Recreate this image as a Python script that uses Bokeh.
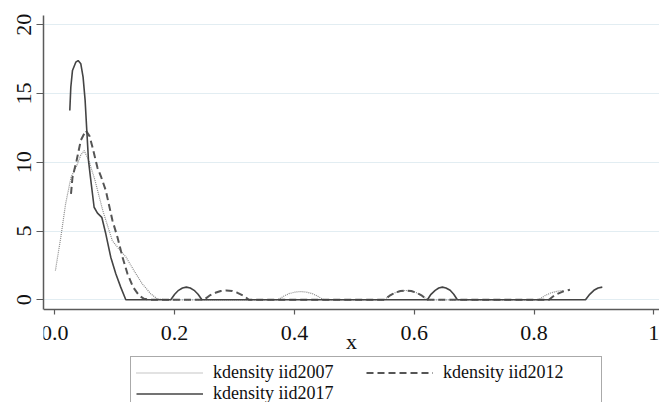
from bokeh.plotting import figure
from bokeh.models import Legend, LegendItem, Range1d, FixedTicker
from bokeh.embed import file_html
from bokeh.resources import INLINE

# ---- data ----
x2007 = [0.001, 0.010, 0.018, 0.027, 0.038, 0.043, 0.049, 0.057, 0.067, 0.080, 0.096, 0.107,
         0.119, 0.132, 0.146, 0.160, 0.171, 0.185,
         0.372, 0.382, 0.391, 0.401, 0.4105, 0.420, 0.430, 0.439, 0.449,
         0.550, 0.559, 0.568, 0.577, 0.586, 0.595, 0.604, 0.613, 0.622,
         0.808, 0.818, 0.828, 0.838, 0.848]
y2007 = [2.13, 4.55, 6.98, 8.9, 9.9, 10.5, 10.85, 10.1, 8.7, 6.5, 4.3, 3.7,
         3.1, 2.13, 1.16, 0.44, 0.07, 0.0,
         0.0, 0.26, 0.45, 0.56, 0.6, 0.56, 0.45, 0.26, 0.0,
         0.0, 0.3, 0.51, 0.64, 0.68, 0.64, 0.51, 0.3, 0.0,
         0.0, 0.3, 0.5, 0.62, 0.68]

x2012 = [0.027, 0.0295, 0.0362, 0.0434, 0.0517, 0.058, 0.0629, 0.0712, 0.0768, 0.0851, 0.0962,
         0.1046, 0.113, 0.1213, 0.1307, 0.1407, 0.149, 0.160,
         0.249, 0.258, 0.268, 0.277, 0.2865, 0.296, 0.305, 0.315, 0.324,
         0.550, 0.559, 0.568, 0.577, 0.586, 0.595, 0.604, 0.613, 0.622,
         0.825, 0.835, 0.848, 0.860]
y2012 = [7.7, 8.9, 10.1, 11.6, 12.31, 11.9, 11.1, 9.6, 9.0, 7.95, 5.77,
         4.55, 3.1, 1.89, 0.92, 0.31, 0.07, 0.0,
         0.0, 0.3, 0.51, 0.64, 0.68, 0.64, 0.51, 0.3, 0.0,
         0.0, 0.3, 0.51, 0.64, 0.68, 0.64, 0.51, 0.3, 0.0,
         0.0, 0.35, 0.6, 0.73]

x2017 = [0.025, 0.0267, 0.0295, 0.035, 0.0389, 0.0434, 0.0472, 0.0506, 0.0534, 0.0562, 0.0595,
         0.0656, 0.0712, 0.0784, 0.0851, 0.0934, 0.1018, 0.110, 0.1185,
         0.1936, 0.2001, 0.2066, 0.2131, 0.2196, 0.2261, 0.2326, 0.2391, 0.2456,
         0.622, 0.628, 0.635, 0.641, 0.647, 0.653, 0.660, 0.666, 0.672,
         0.886, 0.893, 0.900, 0.907, 0.914]
y2017 = [13.77, 15.46, 16.68, 17.28, 17.4, 17.16, 16.19, 14.5, 12.3, 10.13, 8.9,
         6.73, 6.3, 6.0, 4.8, 3.1, 1.89, 0.92, 0.0,
         0.0, 0.4, 0.69, 0.86, 0.92, 0.86, 0.69, 0.4, 0.0,
         0.0, 0.4, 0.69, 0.86, 0.92, 0.86, 0.69, 0.4, 0.0,
         0.0, 0.4, 0.69, 0.86, 0.92]

xticks = [0, 0.2, 0.4, 0.6, 0.8, 1]
xtick_labels = ["0.0", "0.2", "0.4", "0.6", "0.8", "1"]
yticks = [0, 5, 10, 15, 20]
ytick_labels = ["0", "5", "10", "15", "20"]
series_names = ["kdensity iid2007", "kdensity iid2012", "kdensity iid2017"]

FONT = "Liberation Serif"
Y_AXIS_POS = -0.727   # where the x axis crosses (just below 0)

p = figure(width=659, height=402, output_backend="svg", toolbar_location=None,
           x_range=Range1d(-0.0189, 1.0095), y_range=Range1d(-7.469, 20.676),
           min_border_left=43, min_border_right=0, min_border_top=15, min_border_bottom=0,
           background_fill_color="white", border_fill_color="white")
p.outline_line_color = None

r1 = p.line(x2007, y2007, line_color="#8a8a8a", line_width=1.2, line_dash="1 1")
r2 = p.line(x2012, y2012, line_color="#555555", line_width=2, line_dash="7 4")
r3 = p.line(x2017, y2017, line_color="#444444", line_width=1.6)

p.xaxis.ticker = FixedTicker(ticks=xticks)
p.xaxis.major_label_overrides = {t: l for t, l in zip(xticks, xtick_labels)}
p.yaxis.ticker = FixedTicker(ticks=yticks)
p.yaxis.major_label_overrides = {t: l for t, l in zip(yticks, ytick_labels)}
p.yaxis.major_label_orientation = "vertical"
p.xaxis.fixed_location = Y_AXIS_POS
p.yaxis.bounds = (Y_AXIS_POS, 20.676)

for ax in (p.xaxis, p.yaxis):
    ax.axis_line_color = "#5a5a5a"
    ax.axis_line_width = 1.5
    ax.major_tick_line_color = "#5a5a5a"
    ax.major_tick_line_width = 1.2
    ax.minor_tick_line_color = None
    ax.major_tick_in = 0
    ax.major_label_text_font = FONT
    ax.major_label_text_font_size = "22px"
    ax.major_label_text_color = "#111111"
p.xaxis.major_tick_out = 5
p.yaxis.major_tick_out = 7
p.xaxis.major_label_standoff = 11
p.yaxis.major_label_standoff = 5

p.xaxis.axis_label = "x"
p.xaxis.axis_label_text_font = FONT
p.xaxis.axis_label_text_font_size = "22px"
p.xaxis.axis_label_text_font_style = "normal"
p.xaxis.axis_label_text_color = "#111111"
p.xaxis.axis_label_standoff = -14

p.xgrid.grid_line_color = None
p.ygrid.grid_line_color = "#e2edf2"
p.ygrid.grid_line_width = 1

legend = Legend(items=[LegendItem(label=series_names[0], renderers=[r1]),
                       LegendItem(label=series_names[1], renderers=[r2]),
                       LegendItem(label=series_names[2], renderers=[r3])],
                location=(87, -8), orientation="horizontal", ncols=2)
legend.label_text_font = FONT
legend.label_text_font_size = "18px"
legend.label_text_color = "#111111"
legend.glyph_width = 67
legend.glyph_height = 17
legend.label_height = 17
legend.label_width = 153
legend.label_standoff = 10
legend.spacing = 0
legend.padding = 5
legend.margin = 0
legend.border_line_color = "#555555"
legend.border_line_width = 1
legend.background_fill_color = "white"
legend.background_fill_alpha = 1
p.add_layout(legend, "center")

open("out.html", "w").write(file_html(p, INLINE))
